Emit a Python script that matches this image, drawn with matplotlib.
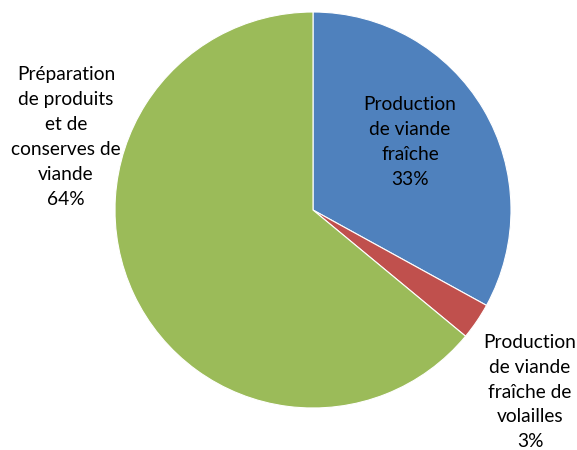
import matplotlib
matplotlib.use("Agg")
import matplotlib.pyplot as plt

labels = ["Production\nde viande\nfraîche",
          "Production\nde viande\nfraîche de\nvolailles",
          "Préparation\nde produits\net de\nconserves de\nviande"]
shares = [33, 3, 64]
colors = ["#4F81BD", "#C0504D", "#9BBB59"]

W, H = 577, 450
fig = plt.figure(figsize=(W / 100, H / 100), dpi=100)
ax = fig.add_axes([0, 0, 1, 1])

cx, cy, r = 313, H - 210, 198
ax.pie(shares, colors=colors, startangle=90, counterclock=False,
       center=(cx, cy), radius=r, frame=True,
       wedgeprops=dict(linewidth=0.8, edgecolor="white"))
ax.set_xlim(0, W)
ax.set_ylim(0, H)
ax.set_aspect("equal")
ax.axis("off")

# label positions in pixels (x, y from top)
pos = [(410, 142), (530, 392), (66, 137)]
for lab, val, (px, py) in zip(labels, shares, pos):
    ax.text(px, H - py, f"{lab}\n{val}%", ha="center", va="center",
            fontsize=13.8, family="Lato", linespacing=1.56, color="black")

fig.savefig("out.png", dpi=100)
